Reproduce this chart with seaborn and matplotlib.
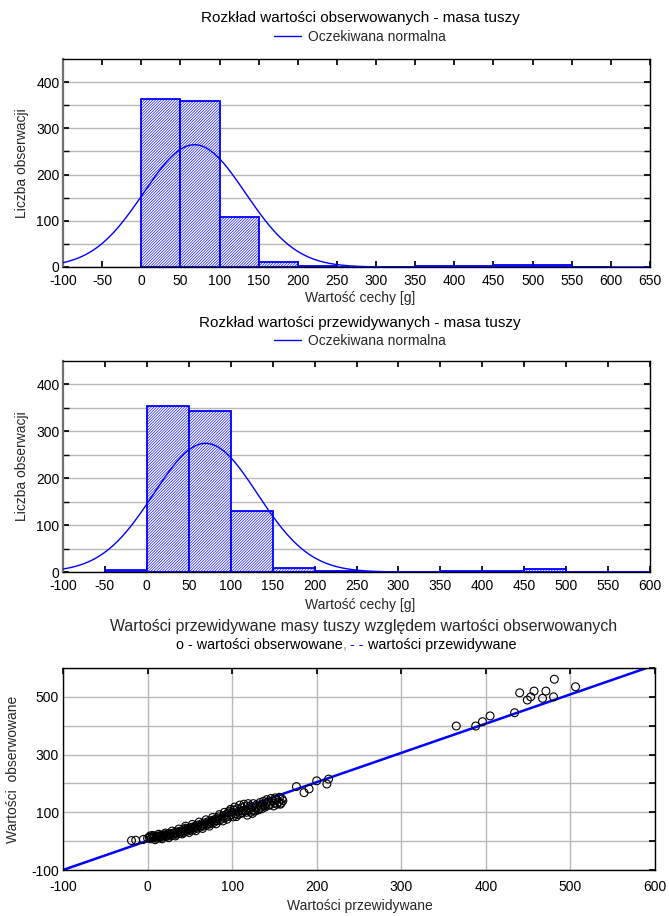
import numpy as np
import pandas as pd
import matplotlib
matplotlib.use("Agg")
import matplotlib.pyplot as plt
from matplotlib.lines import Line2D
from matplotlib.ticker import MultipleLocator, FixedLocator
import seaborn as sns

sns.set_theme(style="white")
plt.rcParams['font.family'] = ['Liberation Sans', 'DejaVu Sans']
plt.rcParams['hatch.linewidth'] = 0.45
plt.rcParams['hatch.color'] = 'blue'
plt.rcParams['axes.unicode_minus'] = False

# ---------------- data ----------------
obs_title = "Rozkład wartości obserwowanych - masa tuszy"
pred_title = "Rozkład wartości przewidywanych - masa tuszy"
scatter_title = "Wartości przewidywane masy tuszy względem wartości obserwowanych"
legend_label = "Oczekiwana normalna"
hist_xlabel = "Wartość cechy [g]"
hist_ylabel = "Liczba obserwacji"
sc_xlabel = "Wartości przewidywane"
sc_ylabel = "Wartości  obserwowane"

obs_bin_left = [0, 50, 100, 150, 200, 250, 300, 350, 400, 450, 500, 550]
obs_counts = [363, 360, 108, 10, 3, 0, 0, 2, 3, 4, 5, 1]
obs_mean, obs_sd, obs_n = 68, 65, 862

pred_bin_left = [-50, 0, 50, 100, 150, 200, 250, 300, 350, 400, 450, 500, 550]
pred_counts = [4, 354, 344, 130, 8, 2, 0, 0, 2, 3, 6, 0, 0]
pred_mean, pred_sd, pred_n = 70, 62, 853

bin_width = 50

predicted = [-19, -14, -5, 0, 2, 4, 5, 7, 8, 10, 11, 12, 14, 15, 16, 18, 19, 20, 22, 23,
             24, 26, 27, 28, 30, 31, 32, 34, 35, 36, 38, 39, 40, 42, 43, 44, 45, 46, 47, 48,
             50, 51, 52, 54, 55, 56, 58, 59, 60, 62, 63, 64, 66, 67, 68, 70, 71, 72, 74, 75,
             76, 78, 79, 80, 82, 83, 84, 86, 88, 90, 92, 93, 95, 96, 97, 99, 100, 102, 104, 105,
             106, 108, 110, 111, 113, 115, 117, 118, 120, 121, 123, 124, 126, 128, 130, 132, 134, 136, 138, 140,
             142, 145, 148, 150, 152, 155, 157, 159,
             3, 6, 9, 13, 17, 21, 25, 29, 33, 37, 41, 45, 49, 53, 57, 61, 65, 69, 73, 77,
             81, 85, 89, 91, 94, 98, 101, 103, 107, 109, 112, 114, 116, 119, 122, 125, 127, 129, 131, 133,
             135, 137, 139, 141, 143, 146, 149, 151, 153, 156, 158, 160,
             176, 185, 191, 200, 212, 214,
             365, 388, 396, 405, 434, 440, 449, 453, 457, 467, 471, 480, 481, 506]
observed = [2, 3, 6, 10, 13, 8, 14, 12, 16, 10, 15, 18, 12, 17, 20, 14, 19, 22, 16, 21,
            25, 18, 23, 27, 20, 26, 30, 24, 29, 33, 27, 32, 36, 30, 35, 40, 45, 34, 39, 44,
            37, 42, 48, 40, 46, 52, 44, 50, 56, 48, 54, 60, 52, 58, 64, 56, 62, 68, 60, 66,
            72, 64, 70, 76, 70, 78, 84, 74, 80, 88, 82, 92, 98, 86, 104, 92, 100, 108, 94, 85,
            112, 104, 96, 116, 106, 120, 100, 90, 110, 122, 118, 96, 108, 114, 120, 112, 118, 128, 122, 130,
            136, 126, 140, 132, 144, 136, 128, 146,
            18, 20, 5, 24, 8, 28, 12, 35, 18, 42, 25, 52, 30, 58, 36, 66, 44, 74, 52, 82,
            60, 92, 70, 100, 76, 110, 84, 118, 92, 125, 98, 128, 106, 130, 100, 130, 104, 126, 108, 134,
            112, 138, 118, 144, 124, 148, 122, 150, 128, 152, 132, 140,
            189, 168, 181, 209, 198, 215,
            399, 399, 414, 434, 445, 514, 489, 500, 520, 495, 520, 500, 561, 535]
fit_x = [-100, 590]
fit_y = [-100, 600]

# ---------------- figure ----------------
W, H = 669, 916
fig = plt.figure(figsize=(W / 100, H / 100), dpi=100)

def fx(px):
    return px / W

def fy(py):
    return 1 - py / H

ax1 = fig.add_axes([fx(63), fy(267), fx(587), 208 / H])
ax2 = fig.add_axes([fx(63), fy(572), fx(587), 211 / H])
ax3 = fig.add_axes([fx(63), fy(870), fx(592), 202 / H])

TICK_FS = 10
LAB_FS = 10
TITLE_FS = 11


def draw_hist(ax, lefts, counts, mean, sd, n, xmax):
    centers = [l + bin_width / 2 for l in lefts]
    edges = list(lefts) + [lefts[-1] + bin_width]
    sns.histplot(x=centers, weights=counts, bins=edges, ax=ax, stat="count",
                 color="white", edgecolor="blue", linewidth=1.3, alpha=1)
    for p in ax.patches:
        p.set_facecolor("white")
        p.set_edgecolor("blue")
        p.set_hatch("/" * 12)
        p.set_zorder(2)
    xs = np.linspace(-100, xmax, 300)
    ys = n * bin_width * np.exp(-0.5 * ((xs - mean) / sd) ** 2) / (sd * np.sqrt(2 * np.pi))
    sns.lineplot(x=xs, y=ys, ax=ax, color="blue", linewidth=1.0, zorder=3)
    ax.set_xlim(-100, xmax)
    ax.set_ylim(0, 450)
    ax.xaxis.set_major_locator(MultipleLocator(50))
    ax.yaxis.set_major_locator(FixedLocator([0, 100, 200, 300, 400]))
    ax.yaxis.set_minor_locator(FixedLocator([50, 150, 250, 350]))
    ax.grid(True, axis="y", which="both", color="#b8b8b8", linewidth=1.0, zorder=0)
    ax.set_axisbelow(True)
    ax.tick_params(axis="both", which="both", direction="in", top=True, right=True,
                   bottom=True, left=True, labelsize=TICK_FS, pad=2.5, length=4,
                   color="black", labelcolor="black")
    ax.tick_params(axis="x", pad=5)
    ax.tick_params(axis="y", which="minor", length=4)
    ax.set_xlabel("")
    ax.set_ylabel("")
    for s in ax.spines.values():
        s.set_color("black")
        s.set_linewidth(1.0)
    ax.spines["left"].set_color("#707070")
    ax.spines["left"].set_linewidth(1.6)


draw_hist(ax1, obs_bin_left, obs_counts, obs_mean, obs_sd, obs_n, 650)
draw_hist(ax2, pred_bin_left, pred_counts, pred_mean, pred_sd, pred_n, 600)

cx = fx(360)
for ax, ty, ly, xly, yly in [(ax1, 18, 37, 298, 163), (ax2, 323, 341, 605, 466)]:
    title = obs_title if ax is ax1 else pred_title
    fig.text(cx, fy(ty), title, ha="center", va="center", fontsize=TITLE_FS, color="black")
    ax.legend(handles=[Line2D([], [], color="blue", lw=1.0)], labels=[legend_label],
              loc="center", bbox_to_anchor=(cx, fy(ly)), bbox_transform=fig.transFigure,
              frameon=False, fontsize=LAB_FS, handlelength=2.0, handletextpad=0.5,
              borderpad=0, borderaxespad=0)
    fig.text(cx, fy(xly), hist_xlabel, ha="center", va="center", fontsize=LAB_FS)
    fig.text(fx(22), fy(yly), hist_ylabel, ha="center", va="center", rotation=90, fontsize=LAB_FS)

# ---------------- scatter ----------------
sns.lineplot(x=fit_x, y=fit_y, ax=ax3, color="blue", linewidth=1.8, zorder=2)
sns.scatterplot(x=predicted, y=observed, ax=ax3, marker="o", s=32,
                facecolor="none", edgecolor="black", linewidth=0.8, zorder=3)
ax3.set_xlim(-100, 600)
ax3.set_ylim(-100, 600)
ax3.xaxis.set_major_locator(MultipleLocator(100))
ax3.yaxis.set_major_locator(MultipleLocator(100))
ax3.set_yticklabels(["-100" if v == -100 else (str(int(v)) if v in (100, 300, 500) else "")
                     for v in ax3.get_yticks()])
ax3.grid(True, which="major", color="#b8b8b8", linewidth=1.0, zorder=0)
ax3.set_axisbelow(True)
ax3.tick_params(axis="both", direction="in", top=True, right=True, labelsize=TICK_FS,
                pad=3, length=4, color="black", labelcolor="black")
ax3.tick_params(axis="x", pad=7)
ax3.set_xlabel("")
ax3.set_ylabel("")
for s in ax3.spines.values():
    s.set_color("black")
    s.set_linewidth(1.0)

cx3 = fx(364)
fig.text(cx3, fy(627), scatter_title, ha="center", va="center", fontsize=11.4)
fig.text(fx(360), fy(906), sc_xlabel, ha="center", va="center", fontsize=LAB_FS)
fig.text(fx(13), fy(769), sc_ylabel, ha="center", va="center", rotation=90, fontsize=LAB_FS)

# multi-colour legend line for scatter
LEG3_FS = 10.4
pieces = [("o - wartości obserwowane", "black"), (",", "#9090c0"), (" - -", "blue"),
          (" wartości przewidywane", "black")]
renderer = fig.canvas.get_renderer()
widths = []
for txt, col in pieces:
    t = fig.text(0, 0, txt, fontsize=LEG3_FS)
    widths.append(t.get_window_extent(renderer).width)
    t.remove()
x_cur = 346 - sum(widths) / 2
for (txt, col), w in zip(pieces, widths):
    fig.text(x_cur / W, fy(645), txt, ha="left", va="center", fontsize=LEG3_FS, color=col)
    x_cur += w

fig.savefig("out.png", dpi=100)
